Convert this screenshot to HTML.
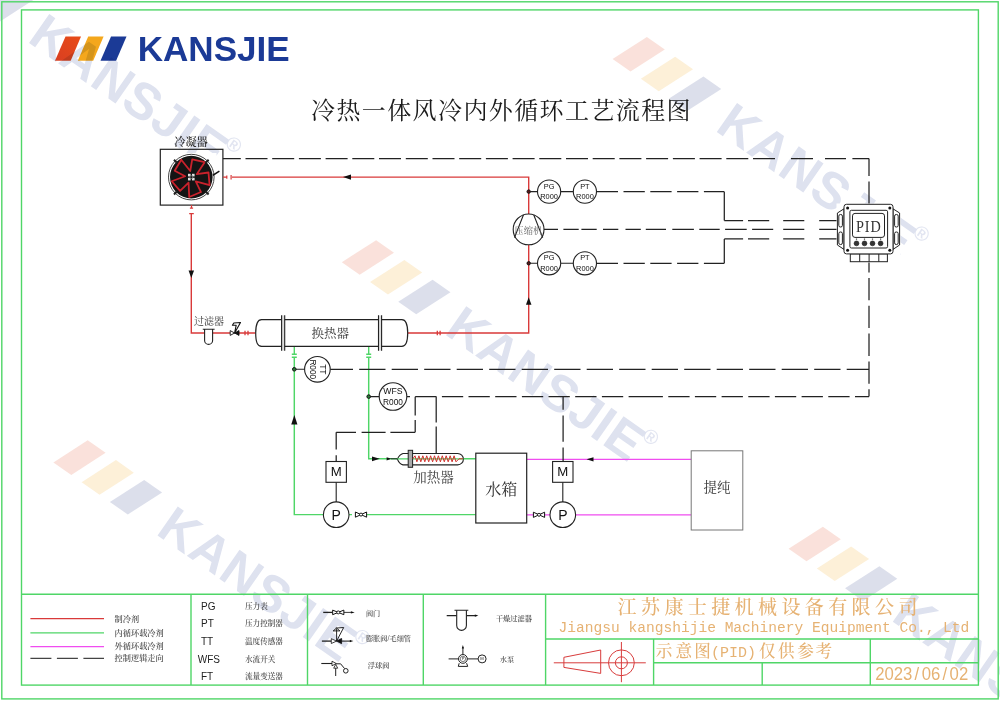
<!DOCTYPE html>
<html lang="zh-CN">
<head>
<meta charset="utf-8">
<title>冷热一体风冷内外循环工艺流程图</title>
<style>
html,body{margin:0;padding:0;background:#fff;}
body{width:1000px;height:701px;overflow:hidden;font-family:"Liberation Sans","Noto Sans CJK SC",sans-serif;}
svg{display:block;will-change:transform;}
</style>
</head>
<body>
<svg width="1000" height="701" viewBox="0 0 1000 701">
<rect width="1000" height="701" fill="#fff"/>
<defs>
<linearGradient id="gr" x1="0" y1="1" x2="1" y2="0"><stop offset="0" stop-color="#d93f22"/><stop offset="1" stop-color="#e84c18"/></linearGradient>
<g id="stripes">
<polygon points="0,24.4 10.5,0 26,0 15.7,24.4" fill="url(#gr)"/>
<polygon points="22.8,24.4 33.2,0 48.6,0 38.2,24.4" fill="#f4a71c"/>
<polygon points="45.5,24.4 56,0 71.5,0 61.1,24.4" fill="#1b3a96"/>
</g>
<g id="wm" opacity="0.17">
<polygon points="0,24.2 9.9,0 23.9,0 14,24.2" fill="#e2502a"/>
<polygon points="22.1,24.2 32,0 46,0 36.1,24.2" fill="#f0a81c"/>
<polygon points="44.2,24.2 54.1,0 68.1,0 58.2,24.2" fill="#314389"/>
<text x="79.4" y="24.2" font-family="'Liberation Sans',sans-serif" font-weight="bold" font-size="32.9" letter-spacing="0.4" fill="#3b52a2">KANSJIE</text>
<text x="226.5" y="6.7" text-anchor="middle" font-family="'Liberation Sans',sans-serif" font-weight="bold" font-size="13" fill="#3b52a2" opacity="0.85">®</text>
</g>
</defs>
<use href="#stripes" transform="translate(55,36.4)"/>
<text x="137.7" y="60.9" font-family="'Liberation Sans',sans-serif" font-weight="bold" font-size="35.1" fill="#1b3a96">KANSJIE</text>
<use href="#wm" style="mix-blend-mode:multiply" transform="translate(-75.2,-30.1) rotate(35) scale(1.56) translate(0,-24.2)"/>
<use href="#wm" style="mix-blend-mode:multiply" transform="translate(341.8,262.2) rotate(35) scale(1.56) translate(0,-24.2)"/>
<use href="#wm" style="mix-blend-mode:multiply" transform="translate(612.6,59) rotate(35) scale(1.56) translate(0,-24.2)"/>
<use href="#wm" style="mix-blend-mode:multiply" transform="translate(53.4,462.4) rotate(35) scale(1.56) translate(0,-24.2)"/>
<use href="#wm" style="mix-blend-mode:multiply" transform="translate(788.6,548.8) rotate(35) scale(1.56) translate(0,-24.2)"/>
<g fill="none" stroke="#4fd667" stroke-width="1.4">
<rect x="1.8" y="1.8" width="996.4" height="697.1"/>
<rect x="21.5" y="9.9" width="956.9" height="675.2"/>
<path d="M21.5 594.3H978.4 M191 594.3V685.1 M307.5 594.3V685.1 M423.3 594.3V685.1 M545.6 594.3V685.1 M545.6 639H978.4 M653.6 639V685.1 M653.6 662.7H978.4 M762.2 662.7V685.1 M870.3 639V685.1"/>
</g>
<text x="311" y="118.5" font-family="'Liberation Serif','Noto Serif CJK SC',serif" font-size="24" letter-spacing="1.4" fill="#1a1a1a">冷热一体风冷内外循环工艺流程图</text>
<g fill="none" stroke="#d93a3a" stroke-width="1.4">
<path d="M232 177.1H528.7V214 M528.7 245V333H408 M191.3 214V333H204.6 M212.6 333H230.5 M239 333H255.4"/>
</g>
<g fill="none" stroke="#4fd667" stroke-width="1.45">
<path d="M294.3 357V514.6H323.4 M349 514.6H352 M366.8 514.6H475.8 M368.7 357V458.8H397.4 M463.4 458.8H475.8"/>
</g>
<g fill="none" stroke="#f04df0" stroke-width="1.35">
<path d="M526.7 459.3H691.2 M526.7 514.8H534 M544.5 514.8H550 M575.6 514.8H691.2"/>
</g>
<path d="M222.9 158.6H240.8M245.5 158.6H267.5M272.2 158.6H294.2M298.9 158.6H320.9M325.6 158.6H347.6M352.3 158.6H374.3M379.0 158.6H401.0M405.8 158.6H427.8M432.5 158.6H454.5M459.2 158.6H481.2M485.9 158.6H507.9M512.6 158.6H534.6M539.3 158.6H561.3M566.0 158.6H588.0M592.7 158.6H614.7M619.4 158.6H641.4M646.1 158.6H668.1M672.9 158.6H694.9M699.6 158.6H721.6M726.3 158.6H748.3M753.0 158.6H775.0M791 158.6H813M825 158.6H846M852.4 158.6H869M869 158.6V176M869 181.5V204.3M869 261.7V272.4M869 278V300.2M869 305.8V328M869 333.6V355.9M869 361.4V383.7M869 389.2V396.6M596.7 191.7H618.0M623.5 191.7H644.8M650.3 191.7H671.6M677.1 191.7H698.4M703.9 191.7H724.3M724.3 191.7V220.5M724.3 220.5H743.1M748 220.5H769.2M783.2 220.5H804.3M819.2 220.5H837.6M596.7 263.3H618.0M623.5 263.3H644.8M650.3 263.3H671.6M677.1 263.3H698.4M703.9 263.3H724.3M724.3 263.3V238.9M724.3 238.9H743.1M748 238.9H769.2M783.2 238.9H804.3M819.2 238.9H837.6M544 229.4H558M563.4 229.4H578.7M581.4 229.4H596.7M603 229.4H618.3M625.5 229.4H640.8M645.8 229.4H666M672.3 229.4H693.9M699.3 229.4H719.7M725.1 229.4H746.7M752.1 229.4H773.2M783.2 229.4H804.3M819.2 229.4H837.6M329.2 369.4H353.0M359.2 369.4H385.5M391.7 369.4H418.0M424.2 369.4H450.5M456.7 369.4H483.0M489.2 369.4H515.5M521.7 369.4H548.0M554.2 369.4H580.5M586.7 369.4H613.0M619.2 369.4H645.5M651.7 369.4H678.0M684.2 369.4H710.5M716.7 369.4H743.0M749.2 369.4H775.5M781.7 369.4H808.0M814.2 369.4H840.5M846.7 369.4H869M406.8 396.7H410M415.2 396.7H436.5M441.9 396.7H463.2M468.5 396.7H489.8M495.2 396.7H516.5M521.9 396.7H543.2M548.5 396.7H569.8M575.2 396.7H596.5M601.9 396.7H623.2M628.6 396.7H649M641.6 396.7H662.9M668.3 396.7H689.6M694.9 396.7H716.2M721.6 396.7H742.9M748.3 396.7H769.6M774.9 396.7H796.2M801.6 396.7H822.9M828.3 396.7H849.6M855.0 396.7H869M415.2 396.7V415.6M415.2 420V432.3M390.4 432.3H415.2M361.6 432.3H385.6M336.2 432.3H356M336.2 432.3V449.6M336.2 455.2V461.4M436.2 396.7V422.4M436.2 426.4V453.2M563.1 396.7V409.7M563.1 415.4V441.7M563.1 447.4V461.4" fill="none" stroke="#222" stroke-width="1.25"/>
<rect x="160.3" y="149.3" width="62.6" height="55.8" fill="none" stroke="#222" stroke-width="1.2"/>
<rect x="166.5" y="153" width="50" height="48.5" fill="#fff"/>
<g transform="translate(191.3,177.1)">
<circle r="22.8" fill="#fff" stroke="#444" stroke-width="1"/>
<circle r="21.3" fill="#141414"/>
<path d="M-1.08,-6.11 L0.93,-17.78 L13.38,-14.86 L5.47,-2.91 L17.19,-4.61 L18.27,8.13 L4.46,4.31 L9.69,14.93 L-2.09,19.89 L-2.72,5.57 L-11.20,13.83 L-19.56,4.16 L-6.14,-0.86 L-16.62,-6.38 L-10.00,-17.32Z" fill="none" stroke="#c9222c" stroke-width="1.8" stroke-linejoin="round"/>
<g fill="#e4e4e4"><rect x="-3.3" y="-3.3" width="2.6" height="2.6"/><rect x="0.7" y="-3.3" width="2.6" height="2.6"/><rect x="-3.3" y="0.7" width="2.6" height="2.6"/><rect x="0.7" y="0.7" width="2.6" height="2.6"/><rect x="-1.6" y="-1.6" width="3.2" height="3.2" fill="#888"/><rect x="-0.9" y="-0.9" width="1.8" height="1.8" fill="#1a1a1a"/></g>
<path d="M21.5,-1.7 L28.1,-5.9" stroke="#111" stroke-width="1.6"/>
<path d="M20,0 L24.5,0" transform="rotate(45)" stroke="#222" stroke-width="2"/>
<path d="M20,0 L24.5,0" transform="rotate(135)" stroke="#222" stroke-width="2"/>
<path d="M20,0 L24.5,0" transform="rotate(225)" stroke="#222" stroke-width="2"/>
<path d="M20,0 L24.5,0" transform="rotate(315)" stroke="#222" stroke-width="2"/>
</g>
<text x="191" y="145.6" text-anchor="middle" font-family="'Liberation Serif','Noto Serif CJK SC',serif" font-weight="600" font-size="11.2" fill="#333">冷凝器</text>
<path d="M223 177.2H227 M226.8 175.6V178.8 M231.1 174.9V179.5 M191.5 205.1V208.2 M189.9 208.2H193.1 M189.2 213.6H193.8" stroke="#d93a3a" stroke-width="1.2" fill="none"/>
<polygon points="343.0,177.1 351.0,174.4 351.0,179.79999999999998" fill="#111"/>
<polygon points="191.3,278.0 188.55,270.4 194.05,270.4" fill="#111"/>
<polygon points="528.7,297.2 525.95,304.8 531.45,304.8" fill="#111"/>
<polygon points="294.35,414.95 291.25,424.45 297.45000000000005,424.45" fill="#111"/>
<polygon points="586.5,459.3 593.5,457.2 593.5,461.40000000000003" fill="#111"/>
<polygon points="379.79999999999995,458.8 372.0,456.40000000000003 372.0,461.2" fill="#111"/>
<polygon points="391.4,458.8 386.6,457.2 386.6,460.40000000000003" fill="#111"/>
<path d="M391 458.8H397.4" stroke="#222" stroke-width="1"/>
<circle cx="528.6" cy="229.4" r="15.4" fill="#fff" stroke="#222" stroke-width="1.1"/>
<path d="M523.5 214.8L514.5 237.6 M533.7 214.8L542.7 237.6" stroke="#222" stroke-width="1.1"/>
<text x="528.4" y="234.4" text-anchor="middle" font-family="'Liberation Serif','Noto Serif CJK SC',serif" font-size="9.4" fill="#666">压缩机</text>
<path d="M530.3 191.6H596.6" stroke="#222" stroke-width="1.1"/>
<circle cx="528.7" cy="191.6" r="1.7" fill="#5a1a1a" stroke="#111" stroke-width="1"/>
<g transform="translate(549.1,191.6) rotate(0)"><circle r="11.6" fill="#fff" stroke="#222" stroke-width="1.1"/><text y="-3.1" text-anchor="middle" font-family="'Liberation Sans',sans-serif" font-size="7.4" fill="#111">PG</text><text y="7.3" text-anchor="middle" font-family="'Liberation Sans',sans-serif" font-size="7.4" fill="#111">R000</text></g>
<g transform="translate(584.9,191.6) rotate(0)"><circle r="11.6" fill="#fff" stroke="#222" stroke-width="1.1"/><text y="-3.1" text-anchor="middle" font-family="'Liberation Sans',sans-serif" font-size="7.4" fill="#111">PT</text><text y="7.3" text-anchor="middle" font-family="'Liberation Sans',sans-serif" font-size="7.4" fill="#111">R000</text></g>
<path d="M530.3 263.3H596.6" stroke="#222" stroke-width="1.1"/>
<circle cx="528.7" cy="263.3" r="1.7" fill="#5a1a1a" stroke="#111" stroke-width="1"/>
<g transform="translate(549.1,263.3) rotate(0)"><circle r="11.6" fill="#fff" stroke="#222" stroke-width="1.1"/><text y="-3.1" text-anchor="middle" font-family="'Liberation Sans',sans-serif" font-size="7.4" fill="#111">PG</text><text y="7.3" text-anchor="middle" font-family="'Liberation Sans',sans-serif" font-size="7.4" fill="#111">R000</text></g>
<g transform="translate(584.9,263.3) rotate(0)"><circle r="11.6" fill="#fff" stroke="#222" stroke-width="1.1"/><text y="-3.1" text-anchor="middle" font-family="'Liberation Sans',sans-serif" font-size="7.4" fill="#111">PT</text><text y="7.3" text-anchor="middle" font-family="'Liberation Sans',sans-serif" font-size="7.4" fill="#111">R000</text></g>
<path d="M296 369.3H330" stroke="#222" stroke-width="1.1"/>
<circle cx="294.3" cy="369.3" r="1.8" fill="#2c7a38" stroke="#111" stroke-width="1"/>
<g transform="translate(317.4,369.3) rotate(90)"><circle r="12.8" fill="#fff" stroke="#222" stroke-width="1.1"/><text y="-3.0" text-anchor="middle" font-family="'Liberation Sans',sans-serif" font-size="8.4" fill="#111">TT</text><text y="7.5" text-anchor="middle" font-family="'Liberation Sans',sans-serif" font-size="8.3" fill="#111">R000</text></g>
<path d="M370.3 396.6H406" stroke="#222" stroke-width="1.1"/>
<circle cx="368.7" cy="396.6" r="1.8" fill="#2c7a38" stroke="#111" stroke-width="1"/>
<g transform="translate(393,396.5) rotate(0)"><circle r="13.8" fill="#fff" stroke="#222" stroke-width="1.1"/><text y="-2.4" text-anchor="middle" font-family="'Liberation Sans',sans-serif" font-size="8.7" fill="#111">WFS</text><text y="8.1" text-anchor="middle" font-family="'Liberation Sans',sans-serif" font-size="8.3" fill="#111">R000</text></g>
<rect x="836.5" y="203.5" width="64" height="59" fill="#fff"/>
<g fill="#fff" stroke="#222" stroke-width="1">
<path d="M844 208.8L837.4 213V245L844 249.4Z"/><path d="M893 208.8L899.6 213V245L893 249.4Z"/>
<rect x="838.8" y="214.5" width="3.6" height="12.5" rx="1.6"/><rect x="838.8" y="232" width="3.6" height="12.5" rx="1.6"/>
<rect x="894.6" y="214.5" width="3.6" height="12.5" rx="1.6"/><rect x="894.6" y="232" width="3.6" height="12.5" rx="1.6"/>
<rect x="850.3" y="253.9" width="37.1" height="7.8"/>
<path d="M859.7 253.9V261.7 M869.1 253.9V261.7 M878.8 253.9V261.7"/>
<rect x="844" y="204.3" width="49" height="49.6" rx="2.5"/>
<rect x="849.9" y="210.3" width="37.7" height="37.7" rx="1.5"/>
<rect x="852.5" y="213.4" width="32" height="24" rx="2.5"/>
</g>
<circle cx="856.5" cy="243.4" r="2.4" fill="#333" stroke="#111" stroke-width="0.6"/>
<rect x="855.9" y="238.6" width="1.2" height="1" fill="#222"/>
<circle cx="864.5" cy="243.4" r="2.4" fill="#333" stroke="#111" stroke-width="0.6"/>
<rect x="863.9" y="238.6" width="1.2" height="1" fill="#222"/>
<circle cx="872.5" cy="243.4" r="2.4" fill="#333" stroke="#111" stroke-width="0.6"/>
<rect x="871.9" y="238.6" width="1.2" height="1" fill="#222"/>
<circle cx="880.6" cy="243.4" r="2.4" fill="#333" stroke="#111" stroke-width="0.6"/>
<rect x="880.0" y="238.6" width="1.2" height="1" fill="#222"/>
<circle cx="847.6" cy="208" r="1.5" fill="#111"/>
<circle cx="889.8" cy="208" r="1.5" fill="#111"/>
<circle cx="847.6" cy="250.3" r="1.5" fill="#111"/>
<circle cx="889.8" cy="250.3" r="1.5" fill="#111"/>
<text transform="translate(868.9,231.6) scale(0.84,1)" text-anchor="middle" font-family="'Liberation Serif',serif" font-size="17" letter-spacing="1.2" fill="#333">PID</text>
<path d="M261.6 319.7H401.8C406 319.7 407.7 324 407.7 333.05C407.7 342.1 406 346.4 401.8 346.4H261.6C257.4 346.4 255.7 342.1 255.7 333.05C255.7 324 257.4 319.7 261.6 319.7Z" fill="#fff" stroke="#222" stroke-width="1.2"/>
<rect x="281.6" y="315.4" width="3.1" height="35.2" fill="#ddd" stroke="none"/>
<path d="M281.6 315.2V350.8 M284.70000000000005 315.2V350.8" fill="none" stroke="#222" stroke-width="1.1"/>
<rect x="378.5" y="315.4" width="3.1" height="35.2" fill="#ddd" stroke="none"/>
<path d="M378.5 315.2V350.8 M381.6 315.2V350.8" fill="none" stroke="#222" stroke-width="1.1"/>
<text x="330.3" y="338" text-anchor="middle" font-family="'Liberation Serif','Noto Serif CJK SC',serif" font-size="12.5" fill="#333">换热器</text>
<path d="M294.3 347V354 M291.8 354.2H296.8 M291.8 357.2H296.8" stroke="#4fd667" stroke-width="1.4" fill="none"/>
<path d="M368.7 347V354 M366.2 354.2H371.2 M366.2 357.2H371.2" stroke="#4fd667" stroke-width="1.4" fill="none"/>
<path d="M437.3 330.7V335.3 M440.1 330.7V335.3 M245 330.7V335.3 M248 330.7V335.3" stroke="#d93a3a" stroke-width="1.3" fill="none"/>
<path d="M202.8 329.2H214.6 M204.6 329.2V340.4A4 4 0 0 0 212.6 340.4V329.2" fill="none" stroke="#222" stroke-width="1.1"/>
<text x="209" y="324.8" text-anchor="middle" font-family="'Liberation Serif','Noto Serif CJK SC',serif" font-size="10" fill="#333">过滤器</text>
<path d="M230.2 330.6V335.4L234.6 333Z" fill="#fff" stroke="#111" stroke-width="0.9"/>
<path d="M239 330.6V335.4L234.6 333Z" fill="#111" stroke="#111" stroke-width="0.9"/>
<path d="M234.6 333L240.5 322.5L233.8 323L232.4 325.2L236.2 325.2Z" fill="none" stroke="#111" stroke-width="1.1" stroke-linejoin="round"/>
<path d="M336.2 482V502" stroke="#222" stroke-width="1.1"/><rect x="326.0" y="461.5" width="20.4" height="20.8" fill="#fff" stroke="#222" stroke-width="1.1"/><text x="336.2" y="475.8" text-anchor="middle" font-family="'Liberation Sans',sans-serif" font-size="13.2" fill="#111">M</text><circle cx="336.2" cy="514.7" r="12.8" fill="#fff" stroke="#222" stroke-width="1.1"/><text x="336.2" y="519.8" text-anchor="middle" font-family="'Liberation Sans',sans-serif" font-size="14" fill="#111">P</text>
<path d="M562.8 482V502" stroke="#222" stroke-width="1.1"/><rect x="552.5999999999999" y="461.5" width="20.4" height="20.8" fill="#fff" stroke="#222" stroke-width="1.1"/><text x="562.8" y="475.8" text-anchor="middle" font-family="'Liberation Sans',sans-serif" font-size="13.2" fill="#111">M</text><circle cx="562.8" cy="514.7" r="12.8" fill="#fff" stroke="#222" stroke-width="1.1"/><text x="562.8" y="519.8" text-anchor="middle" font-family="'Liberation Sans',sans-serif" font-size="14" fill="#111">P</text>
<path d="M355.4 512.0V517.2L366.6 512.0V517.2Z" fill="#fff" stroke="#111" stroke-width="1" stroke-linejoin="round"/><circle cx="361" cy="514.6" r="1.5" fill="#fff" stroke="#111" stroke-width="0.9"/>
<path d="M533.4 512.1999999999999V517.4L544.6 512.1999999999999V517.4Z" fill="#fff" stroke="#111" stroke-width="1" stroke-linejoin="round"/><circle cx="539" cy="514.8" r="1.5" fill="#fff" stroke="#111" stroke-width="0.9"/>
<path d="M403 453.5H457.7A5.7 5.7 0 0 1 457.7 464.9H403Q399.5 464 397.4 459.2Q399.5 454.4 403 453.5Z" fill="#fff" stroke="#222" stroke-width="1.1"/>
<path d="M463.4 458.8H397.4" stroke="#4fd667" stroke-width="1.2"/>
<rect x="408.2" y="450.3" width="4.4" height="17" fill="#aaa" stroke="#222" stroke-width="1"/>
<path d="M412.8 458.8L415.0 455.8L416.9 461.8L418.9 455.8L420.8 461.8L422.8 455.8L424.8 461.8L426.7 455.8L428.7 461.8L430.6 455.8L432.6 461.8L434.5 455.8L436.5 461.8L438.4 455.8L440.4 461.8L442.3 455.8L444.3 461.8L446.2 455.8L448.2 461.8L450.2 455.8L452.1 461.8L454.1 455.8L456.0 461.8L459 458.8H463" fill="none" stroke="#d0302a" stroke-width="1"/>
<text x="433.5" y="481.6" text-anchor="middle" font-family="'Liberation Serif','Noto Serif CJK SC',serif" font-size="13.5" fill="#444">加热器</text>
<rect x="475.8" y="453.2" width="50.9" height="69.8" fill="#fff" stroke="#222" stroke-width="1.2"/>
<text x="501.2" y="495" text-anchor="middle" font-family="'Liberation Serif','Noto Serif CJK SC',serif" font-size="16" fill="#333">水箱</text>
<rect x="691.2" y="450.8" width="51.6" height="79.2" fill="#fff" stroke="#777" stroke-width="1"/>
<text x="717" y="491.5" text-anchor="middle" font-family="'Liberation Serif','Noto Serif CJK SC',serif" font-size="13.5" fill="#333">提纯</text>
<path d="M30.4 618.7H104" stroke="#d93a3a" stroke-width="1.2"/>
<path d="M30.4 632.8H104" stroke="#4fd667" stroke-width="1.2"/>
<path d="M30.4 646.6H104" stroke="#f04df0" stroke-width="1.2"/>
<path d="M30.4 658.4H104" stroke="#444" stroke-width="1.2" stroke-dasharray="21 5.5"/>
<text x="114.6" y="621.8" font-family="'Liberation Serif','Noto Serif CJK SC',serif" font-weight="600" font-size="8.2" fill="#555">制冷剂</text>
<text x="114.6" y="635.5" font-family="'Liberation Serif','Noto Serif CJK SC',serif" font-weight="600" font-size="8.2" fill="#555">内循环载冷剂</text>
<text x="114.6" y="649.3" font-family="'Liberation Serif','Noto Serif CJK SC',serif" font-weight="600" font-size="8.2" fill="#555">外循环载冷剂</text>
<text x="114.6" y="661" font-family="'Liberation Serif','Noto Serif CJK SC',serif" font-weight="600" font-size="8.2" fill="#555">控制逻辑走向</text>
<text x="201" y="609.8000000000001" font-family="'Liberation Sans',sans-serif" font-size="10" fill="#222">PG</text>
<text x="245" y="608.8000000000001" font-family="'Liberation Serif','Noto Serif CJK SC',serif" font-weight="600" font-size="7.6" fill="#555">压力表</text>
<text x="201" y="627.2" font-family="'Liberation Sans',sans-serif" font-size="10" fill="#222">PT</text>
<text x="245" y="626.2" font-family="'Liberation Serif','Noto Serif CJK SC',serif" font-weight="600" font-size="7.6" fill="#555">压力控制器</text>
<text x="201" y="645.2" font-family="'Liberation Sans',sans-serif" font-size="10" fill="#222">TT</text>
<text x="245" y="644.2" font-family="'Liberation Serif','Noto Serif CJK SC',serif" font-weight="600" font-size="7.6" fill="#555">温度传感器</text>
<text x="197.8" y="662.8000000000001" font-family="'Liberation Sans',sans-serif" font-size="10" fill="#222">WFS</text>
<text x="245" y="661.8000000000001" font-family="'Liberation Serif','Noto Serif CJK SC',serif" font-weight="600" font-size="7.6" fill="#555">水流开关</text>
<text x="201" y="679.8000000000001" font-family="'Liberation Sans',sans-serif" font-size="10" fill="#222">FT</text>
<text x="245" y="678.8000000000001" font-family="'Liberation Serif','Noto Serif CJK SC',serif" font-weight="600" font-size="7.6" fill="#555">流量变送器</text>
<path d="M323.2 612.4H332.6" stroke="#222" stroke-width="1.3"/><path d="M343.9 612.4H352" stroke="#222" stroke-width="0.9"/>
<polygon points="354.7,612.4 350.90000000000003,611.1999999999999 350.90000000000003,613.6" fill="#111"/>
<path d="M332.65 610.1V614.6999999999999L343.85 610.1V614.6999999999999Z" fill="#fff" stroke="#111" stroke-width="1" stroke-linejoin="round"/><circle cx="338.25" cy="612.4" r="1.5" fill="#fff" stroke="#111" stroke-width="0.9"/>
<text x="365.9" y="616.3" font-family="'Liberation Serif','Noto Serif CJK SC',serif" font-weight="600" font-size="7.2" fill="#555">阀门</text>
<path d="M321.9 641.1H331.3" stroke="#222" stroke-width="1.3"/><path d="M341.4 641.1H351" stroke="#222" stroke-width="1.1"/>
<polygon points="353.40000000000003,641.1 349.8,639.9 349.8,642.3000000000001" fill="#111"/>
<path d="M331.3 638.7V643.5L336.6 641.1Z" fill="#fff" stroke="#111" stroke-width="0.8"/><path d="M341.6 638.5V643.7L336.6 641.1Z" fill="#111" stroke="#111" stroke-width="0.8"/>
<path d="M336.6 641.1V629 M336.6 641.1L343.7 627.5L335.7 628.1 M333.2 630.9L336.6 628.1L339.9 630.9Z" fill="none" stroke="#111" stroke-width="0.9" stroke-linejoin="round"/>
<text x="365.9" y="641" font-family="'Liberation Serif','Noto Serif CJK SC',serif" font-weight="600" font-size="7.2" fill="#555">膨胀阀/毛细管</text>
<path d="M321.3 663.5H332" stroke="#222" stroke-width="1.1"/>
<path d="M335.7 663.8H340.6L344.6 668.6 M335.7 667V676" stroke="#222" stroke-width="1" fill="none"/>
<path d="M332 661.2L336.2 663.5L332 665.8Z" fill="#fff" stroke="#111" stroke-width="0.8"/>
<path d="M333.7 668.2L335.7 664.4L337.7 668.2Z" fill="#fff" stroke="#111" stroke-width="0.8"/>
<circle cx="345.8" cy="670.8" r="2.3" fill="#fff" stroke="#222" stroke-width="1"/>
<text x="367.8" y="667.8" font-family="'Liberation Serif','Noto Serif CJK SC',serif" font-weight="600" font-size="7.2" fill="#555">浮球阀</text>
<path d="M446.7 615.6H456.7 M466.4 615.6H476.5 M454.5 610.3H468.3" fill="none" stroke="#222" stroke-width="1.1"/>
<path d="M456.7 610.3V625.5A4.85 4.85 0 0 0 466.4 625.5V610.3" fill="none" stroke="#222" stroke-width="1.1"/>
<polygon points="478.40000000000003,615.6 474.8,614.4 474.8,616.8000000000001" fill="#111"/>
<text x="495.9" y="620.7" font-family="'Liberation Serif','Noto Serif CJK SC',serif" font-weight="600" font-size="7.2" fill="#555">干燥过滤器</text>
<path d="M448.6 658.9H478 M462.9 658.9V647 M459.2 663.2L458.3 666.4H467.7L466.6 663.2" stroke="#222" stroke-width="1" fill="none"/>
<polygon points="462.9,645.0999999999999 461.79999999999995,648.5 464.0,648.5" fill="#111"/>
<circle cx="462.9" cy="658.9" r="4.4" fill="#fff" stroke="#222" stroke-width="1"/><circle cx="462.9" cy="658.9" r="2.7" fill="#fff" stroke="#222" stroke-width="0.6"/>
<circle cx="482.1" cy="658.9" r="4" fill="#fff" stroke="#222" stroke-width="1"/>
<text x="462.9" y="660.3" text-anchor="middle" font-family="'Liberation Sans',sans-serif" font-size="3.8" fill="#222">P</text>
<text x="482.1" y="660.4" text-anchor="middle" font-family="'Liberation Sans',sans-serif" font-size="4.2" fill="#222">M</text>
<text x="499.7" y="662.1" font-family="'Liberation Serif','Noto Serif CJK SC',serif" font-weight="600" font-size="7.2" fill="#555">水泵</text>
<text x="617.6" y="614.4" font-family="'Liberation Serif','Noto Serif CJK SC',serif" font-weight="500" font-size="19" letter-spacing="4.4" fill="#e6b273">江苏康士捷机械设备有限公司</text>
<text x="558.6" y="632.2" font-family="'Liberation Mono',monospace" font-size="14.57" fill="#e6b273">Jiangsu kangshijie Machinery Equipment Co., Ltd</text>
<text x="664 683.8 702.6 715.6 724.6 733.6 742.6 751.6 767.2 786.4 805.6 823.8" y="657.4" text-anchor="middle" font-family="'Liberation Mono','Noto Serif CJK SC',serif" font-weight="500" font-size="16.6" fill="#e6b273">示意图<tspan font-size="15">(PID)</tspan>仅供参考</text>
<text transform="scale(0.9,1)" x="972.44 982.78 993.11 1003.44 1016.22 1024.11 1034.44 1047.22 1055.11 1065.44" y="679.6" font-family="'Liberation Sans',sans-serif" font-size="18.6" fill="#e6b273">2023/06/02</text>
<g fill="none" stroke="#d83c3c" stroke-width="1">
<path d="M553.8 662.8H645.8 M621.4 642V682.2 M563.9 657.3V667.4L600.7 673.4V650Z"/>
<circle cx="621.4" cy="662.8" r="12.9"/><circle cx="621.4" cy="662.8" r="6"/>
</g>
</svg>
</body>
</html>
